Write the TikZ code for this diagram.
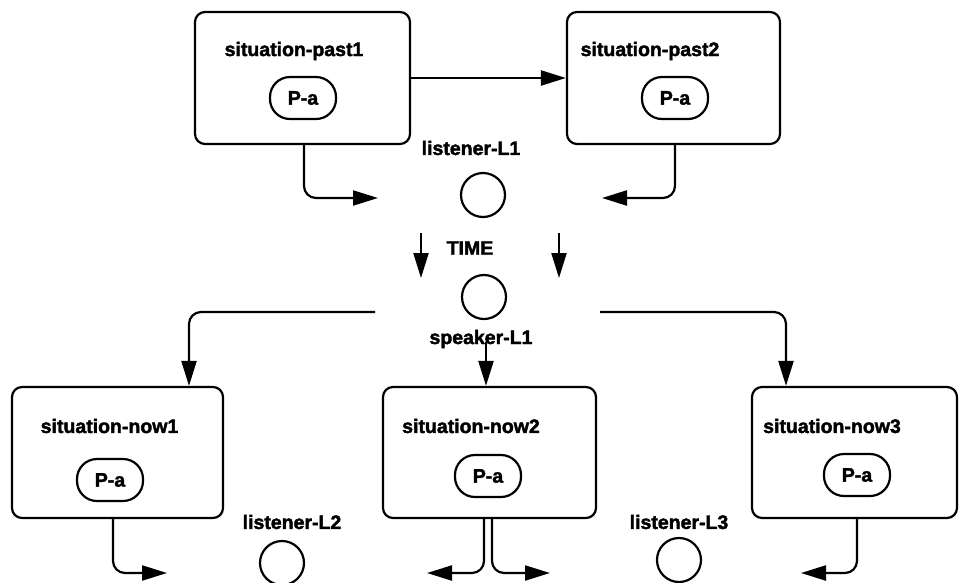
\documentclass[tikz,border=0pt]{standalone}
\usepackage{fontspec}
\setmainfont{Liberation Sans}
\newfontfamily\heavyfont{Liberation Sans Bold}[FakeBold=2]
\usetikzlibrary{arrows.meta}
\begin{document}
\begin{tikzpicture}[x=1pt,y=-1pt,
  every node/.style={font=\heavyfont\fontsize{19.5}{21}\selectfont},
  sitbox/.style={draw, line width=2.2pt, rounded corners=10pt, inner sep=0pt},
  pabox/.style={draw, line width=2.2pt, rounded corners=20pt, minimum width=66pt, minimum height=42pt, inner sep=0pt},
  agent/.style={draw, circle, line width=2.2pt, minimum size=44pt, inner sep=0pt},
  lbl/.style={inner sep=0pt},
  arr/.style={line width=2.2pt, -{Triangle[length=25pt,width=15pt]}},
  elbow/.style={arr, rounded corners=12pt}]
\useasboundingbox (0,0) rectangle (959,582);

% situation boxes
\node[sitbox, minimum width=215pt, minimum height=132pt] (past1) at (302.5,78) {};
\node[sitbox, minimum width=213pt, minimum height=132pt] (past2) at (673.5,78) {};
\node[sitbox, minimum width=211pt, minimum height=131pt] (now1) at (117.5,452.5) {};
\node[sitbox, minimum width=213pt, minimum height=131pt] (now2) at (489.5,452.5) {};
\node[sitbox, minimum width=205pt, minimum height=131pt] (now3) at (854.5,452.5) {};

% box titles
\node[lbl] (tp1) at (294,51) {situation-past1};
\node[lbl] (tp2) at (650,51) {situation-past2};
\node[lbl] (tn1) at (109.5,426) {situation-now1};
\node[lbl] (tn2) at (471,426) {situation-now2};
\node[lbl] (tn3) at (832,426) {situation-now3};

% P-a
\node[pabox] (pa1) at (303,98) {P-a};
\node[pabox] (pa2) at (675,98) {P-a};
\node[pabox] (pa3) at (110,480) {P-a};
\node[pabox] (pa4) at (488,476) {P-a};
\node[pabox] (pa5) at (857,475) {P-a};

% agents
\node[agent] (L1) at (483,195) {};
\node[agent] (S1) at (484,297) {};
\node[agent] (L2) at (282,563) {};
\node[agent] (L3) at (679,560) {};

% agent labels
\node[lbl] (lL1) at (471,148) {listener-L1};
\node[lbl] (time) at (470,248) {TIME};
\node[lbl] (lS1) at (481,339) {speaker-L1};
\node[lbl] (lL2) at (292,522) {listener-L2};
\node[lbl] (lL3) at (679,522) {listener-L3};

% free ends
\coordinate (t1) at (378,198);
\coordinate (t2) at (602,198);
\coordinate (ta1) at (421,233);
\coordinate (ta2) at (421,278);
\coordinate (tb1) at (559,233);
\coordinate (tb2) at (559,278);
\coordinate (sl) at (375,312);
\coordinate (sr) at (600,312);
\coordinate (e1) at (167,573);
\coordinate (e2l) at (427,573);
\coordinate (e2r) at (550,573);
\coordinate (e3) at (801,573);
\coordinate (sk) at (486,342);

% connectors
\draw[arr] (past1.east) -- (past2.west);
\draw[elbow] ([xshift=1.5pt]past1.south) |- (t1);
\draw[elbow] ([xshift=1.5pt]past2.south) |- (t2);
\draw[arr] (ta1) -- (ta2);
\draw[arr] (tb1) -- (tb2);
\draw[elbow] (sl) -| ([xshift=71.5pt]now1.north);
\draw[elbow] (sr) -| ([xshift=-68.5pt]now3.north);
\draw[arr] (sk) -- (sk |- now2.north);
\draw[elbow] ([xshift=-4.5pt]now1.south) |- (e1);
\draw[elbow] ([xshift=-5.5pt]now2.south) |- (e2l);
\draw[elbow] ([xshift=2.5pt]now2.south) |- (e2r);
\draw[elbow] ([xshift=2.5pt]now3.south) |- (e3);
\end{tikzpicture}
\end{document}
